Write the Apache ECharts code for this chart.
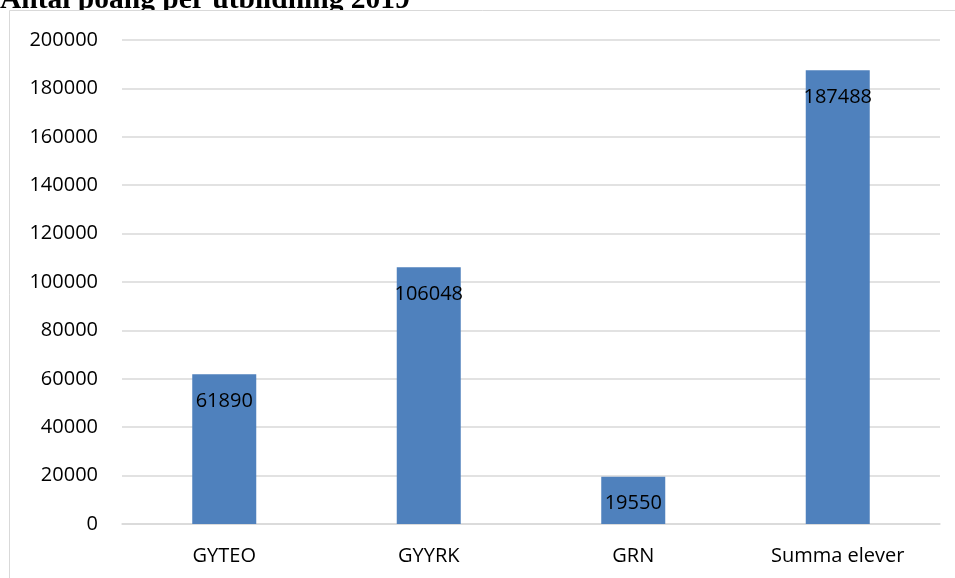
<!DOCTYPE html>
<html>
<head>
<meta charset="utf-8">
<script src="https://cdn.jsdelivr.net/npm/echarts@6/dist/echarts.min.js"></script>
<style>
  html, body { margin: 0; padding: 0; background: #fff; }
  #chart { width: 955px; height: 578px; }
</style>
</head>
<body>
<div id="chart"></div>
<script>
// data
const categories = ['GYTEO', 'GYYRK', 'GRN', 'Summa elever'];
const points = [61890, 106048, 19550, 187488];
const yTicks = [0, 20000, 40000, 60000, 80000, 100000, 120000, 140000, 160000, 180000, 200000];

const chart = echarts.init(document.getElementById('chart'));

chart.setOption({
    animation: false,
    title: {
        text: 'Antal poäng per utbildning 2019',
        left: -5,
        top: -20,
        z: 0,
        textStyle: {
            fontFamily: 'Liberation Serif',
            fontWeight: 'bold',
            fontSize: 29.5,
            color: '#000'
        }
    },
    // ram runt diagrammet, ligger över rubriken
    graphic: [{
        type: 'rect',
        shape: { x: 9.5, y: 10.5, width: 960, height: 600 },
        style: { fill: '#fff', stroke: '#d9d9d9', lineWidth: 1 },
        z: 1,
        silent: true
    }],
    grid: {
        left: 122,
        right: 15,
        top: 40,
        bottom: 54
    },
    xAxis: {
        type: 'category',
        data: categories,
        z: 3,
        axisLine: { lineStyle: { color: '#d9d9d9', width: 1.5 } },
        axisTick: { show: false },
        axisLabel: {
            color: '#000',
            fontFamily: 'Open Sans',
            fontSize: 20,
            margin: 22
        }
    },
    yAxis: {
        type: 'value',
        min: yTicks[0],
        max: yTicks[yTicks.length - 1],
        interval: yTicks[1] - yTicks[0],
        z: 3,
        axisLine: { show: false },
        axisTick: { show: false },
        splitLine: { lineStyle: { color: '#d9d9d9', width: 1.5 } },
        axisLabel: {
            color: '#000',
            fontFamily: 'Open Sans',
            fontSize: 20,
            margin: 24,
            formatter: v => String(v)
        }
    },
    series: [{
        type: 'bar',
        data: points,
        barWidth: 64,
        z: 4,
        itemStyle: { color: '#4f81bd' },
        label: {
            show: true,
            position: 'insideTop',
            distance: 17,
            color: '#000',
            fontFamily: 'Open Sans',
            fontSize: 20
        }
    }]
});
</script>
</body>
</html>
